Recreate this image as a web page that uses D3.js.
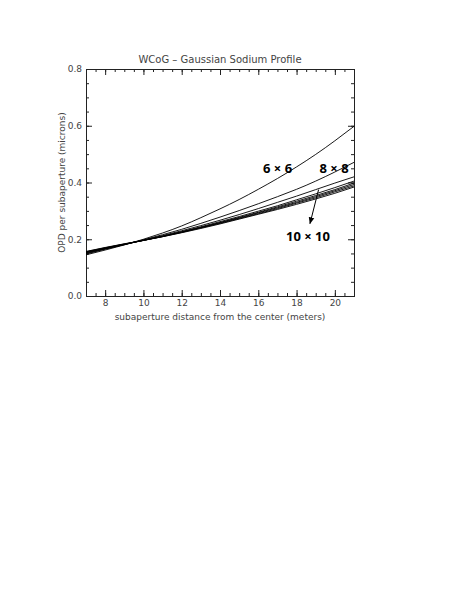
<!DOCTYPE html>
<html lang="en">
  <head>
    <meta charset="UTF-8" />
    <title>WCoG - Gaussian Sodium Profile</title>
    <script src="https://d3js.org/d3.v7.min.js"></script>
    <style>
      body { margin: 0; background: #fff; }
      .axis-text { font-family: "DejaVu Sans", sans-serif; font-size: 9px; fill: #444; }
      .lbl { font-family: "Open Sans", "Liberation Sans", sans-serif; font-size: 13px; font-weight: bold; fill: #000; }
    </style>
  </head>
  <body>
    <div class="chart"></div>
  </body>

  <script>
    // distance from center (m)
    var xs = [7, 8, 9, 10, 11, 12, 13, 14, 15, 16, 17, 18, 19, 20, 21];

    // OPD per subaperture (microns), one array per curve
    var opd6x6 = [0.145, 0.162, 0.180, 0.200, 0.222, 0.247, 0.276, 0.307, 0.340, 0.376, 0.414, 0.455, 0.499, 0.547, 0.598];
    var opd8x8 = [0.148, 0.165, 0.181, 0.198, 0.216, 0.235, 0.256, 0.278, 0.301, 0.325, 0.350, 0.376, 0.405, 0.437, 0.471];
    var opdC3 = [0.150, 0.166, 0.181, 0.197, 0.213, 0.230, 0.248, 0.267, 0.287, 0.308, 0.330, 0.352, 0.375, 0.398, 0.420];
    var opdC4 = [0.152, 0.167, 0.182, 0.196, 0.211, 0.227, 0.244, 0.262, 0.280, 0.299, 0.318, 0.339, 0.360, 0.382, 0.405];
    var opdC5 = [0.153, 0.168, 0.182, 0.196, 0.210, 0.226, 0.242, 0.259, 0.277, 0.295, 0.314, 0.334, 0.354, 0.375, 0.398];
    var opdC6 = [0.155, 0.169, 0.183, 0.196, 0.210, 0.225, 0.241, 0.258, 0.275, 0.293, 0.311, 0.330, 0.350, 0.371, 0.393];
    var opdC7 = [0.156, 0.170, 0.183, 0.196, 0.209, 0.224, 0.240, 0.256, 0.273, 0.290, 0.308, 0.327, 0.346, 0.367, 0.388];
    var opdC8 = [0.157, 0.171, 0.184, 0.196, 0.209, 0.223, 0.238, 0.254, 0.271, 0.288, 0.305, 0.323, 0.342, 0.362, 0.384];
    var curves = [opd6x6, opd8x8, opdC3, opdC4, opdC5, opdC6, opdC7, opdC8];

    var xTicks = [8, 10, 12, 14, 16, 18, 20];
    var yTicks = [0.0, 0.2, 0.4, 0.6, 0.8];

    var W = 468, H = 605;
    var margin = { top: 69, left: 86, right: 114, bottom: 309 };
    var width = W - margin.left - margin.right;
    var height = H - margin.top - margin.bottom;

    var svgRoot = d3.select(".chart").append("svg")
      .attr("width", W)
      .attr("height", H);

    var svg = svgRoot.append("g")
      .attr("transform", "translate(" + margin.left + "," + margin.top + ")");

    var x = d3.scaleLinear().domain([7, 21]).range([0, width]);
    var y = d3.scaleLinear().domain([0, 0.8]).range([height, 0]);

    var xMinor = d3.range(7, 21.01, 0.5);
    var yMinor = d3.range(0, 0.801, 0.05);

    // ticks on all four sides, pointing inward (IDL style box)
    function drawAxis(axis, transform) {
      var g = svg.append("g").attr("transform", transform).call(axis);
      g.select(".domain").attr("stroke", "#222");
      g.selectAll(".tick line").attr("stroke", "#222");
      g.selectAll("text").attr("class", "axis-text").attr("fill", null);
      return g;
    }

    drawAxis(d3.axisBottom(x).tickValues(xMinor).tickSize(-3).tickFormat(""), "translate(0," + height + ")");
    drawAxis(d3.axisBottom(x).tickValues(xTicks).tickSize(-6).tickPadding(4).tickFormat(d3.format("d")), "translate(0," + height + ")");
    drawAxis(d3.axisTop(x).tickValues(xMinor).tickSize(-3).tickFormat(""), "translate(0,0)");
    drawAxis(d3.axisTop(x).tickValues(xTicks).tickSize(-6).tickFormat(""), "translate(0,0)");
    drawAxis(d3.axisLeft(y).tickValues(yMinor).tickSize(-3).tickFormat(""), "translate(0,0)");
    drawAxis(d3.axisLeft(y).tickValues(yTicks).tickSize(-6).tickPadding(4).tickFormat(d3.format(".1f")), "translate(0,0)");
    drawAxis(d3.axisRight(y).tickValues(yMinor).tickSize(-3).tickFormat(""), "translate(" + width + ",0)");
    drawAxis(d3.axisRight(y).tickValues(yTicks).tickSize(-6).tickFormat(""), "translate(" + width + ",0)");

    var line = d3.line()
      .x(function (d, i) { return x(xs[i]); })
      .y(function (d) { return y(d); })
      .curve(d3.curveNatural);

    svg.append("g").selectAll("path")
      .data(curves)
      .enter().append("path")
      .attr("fill", "none")
      .attr("stroke", "#000")
      .attr("stroke-width", 0.9)
      .attr("d", line);

    // titles
    svgRoot.append("text")
      .attr("class", "axis-text")
      .attr("x", margin.left + width / 2)
      .attr("y", 63)
      .attr("text-anchor", "middle")
      .style("font-size", "10px")
      .text("WCoG \u2013 Gaussian Sodium Profile");

    svgRoot.append("text")
      .attr("class", "axis-text")
      .attr("x", margin.left + width / 2)
      .attr("y", margin.top + height + 24)
      .attr("text-anchor", "middle")
      .text("subaperture distance from the center (meters)");

    svgRoot.append("text")
      .attr("class", "axis-text")
      .attr("transform", "translate(65," + (margin.top + height / 2) + ") rotate(-90)")
      .attr("text-anchor", "middle")
      .text("OPD per subaperture (microns)");

    // annotations
    svg.append("text").attr("class", "lbl")
      .attr("x", x(16.25)).attr("y", y(0.435))
      .text("6 \u00d7 6");
    svg.append("text").attr("class", "lbl")
      .attr("x", x(19.2)).attr("y", y(0.435))
      .text("8 \u00d7 8");
    svg.append("text").attr("class", "lbl")
      .attr("x", x(17.45)).attr("y", y(0.195))
      .text("10 \u00d7 10");

    svgRoot.append("defs").append("marker")
      .attr("id", "arr")
      .attr("viewBox", "0 0 10 10")
      .attr("refX", 9).attr("refY", 5)
      .attr("markerWidth", 7).attr("markerHeight", 7)
      .attr("orient", "auto")
      .append("path").attr("d", "M0,1 L10,5 L0,9 Z").attr("fill", "#000");

    svg.append("line")
      .attr("x1", x(19.15)).attr("y1", y(0.375))
      .attr("x2", x(18.7)).attr("y2", y(0.255))
      .attr("stroke", "#000")
      .attr("stroke-width", 1)
      .attr("marker-end", "url(#arr)");
  </script>
</html>
